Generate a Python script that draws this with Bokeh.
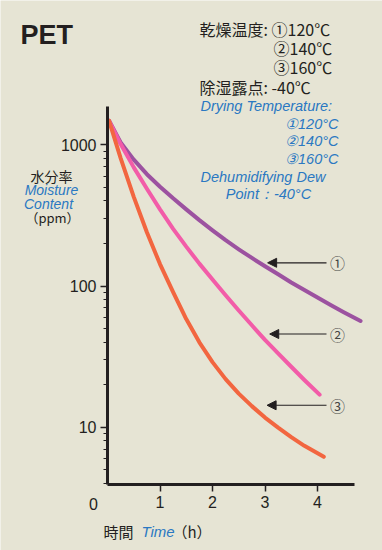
from bokeh.plotting import figure
from bokeh.models import (FixedTicker, NumeralTickFormatter, Label, Arrow, NormalHead, Range1d)
from bokeh.embed import file_html
from bokeh.resources import INLINE

# ---- data ----
time_1 = [0.03, 0.25, 0.5, 0.75, 1.0, 1.25, 1.5, 1.75, 2.0, 2.25, 2.5, 2.75, 3.0,
          3.25, 3.5, 3.75, 4.0, 4.25, 4.5, 4.82]
moist_1 = [1479, 1038, 785, 619, 505, 418, 349, 293, 248, 211, 182, 158, 138,
           121, 106, 93.8, 82.8, 73.5, 65.3, 56.5]
time_2 = [0.03, 0.25, 0.5, 0.75, 1.0, 1.25, 1.5, 1.75, 2.0, 2.25, 2.5, 2.75, 3.0,
          3.25, 3.5, 3.75, 4.04]
moist_2 = [1479, 1012, 692, 488, 349, 254, 190, 144, 111, 85.9, 67.1, 52.7, 41.5,
           33.3, 26.8, 21.6, 17.0]
time_3 = [0.03, 0.25, 0.5, 0.75, 1.0, 1.25, 1.5, 1.75, 2.0, 2.25, 2.5, 2.75, 3.0,
          3.25, 3.5, 3.75, 4.12]
moist_3 = [1479, 805, 428, 240, 143, 90.4, 58.3, 39.9, 28.9, 21.9, 17.3, 14.1, 11.7,
           9.93, 8.51, 7.38, 6.17]
series_colors = ["#9C52A0", "#F25CA8", "#F26640"]
x_ticks = [1, 2, 3, 4]
y_ticks = [10, 100, 1000]
arrow_names = ["①", "②", "③"]
arrow_tip_t = [3.05, 3.09, 3.04]
arrow_y = [146, 45.7, 14.3]

BG = "#E6E4D4"
DARK = "#231F20"
BLUE = "#2A78C2"
JP = "Noto Sans CJK JP"
LAT = "Liberation Sans"

W, H = 382, 550
FL, FT, FB = 107, 106, 484   # axis corner / top of the y axis
PXH = 52.5          # pixels per hour
PXD = 141.2         # pixels per decade
Y1000 = 144.3       # pixel row of 1000

def X(px):
    return (px - FL) / PXH

def Y(py):
    return 10 ** (3 - (py - Y1000) / PXD)

p = figure(width=W, height=H, output_backend="svg", toolbar_location=None,
           y_axis_type="log",
           x_range=Range1d(X(0), X(W)), y_range=Range1d(Y(H), Y(0)),
           min_border_left=0, min_border_top=0,
           min_border_right=0, min_border_bottom=0)
p.background_fill_color = BG
p.border_fill_color = BG
p.outline_line_color = None
p.grid.visible = False

for t, m, c in zip([time_1, time_2, time_3], [moist_1, moist_2, moist_3], series_colors):
    p.line(t, m, line_color=c, line_width=4, line_cap="round", line_join="round")

# axes (kept at the chart corner)
xa = p.xaxis[0]
xa.fixed_location = Y(FB)
xa.ticker = FixedTicker(ticks=x_ticks)
xa.bounds = (0, 4.7)
xa.axis_line_width = 3
xa.axis_line_color = DARK
xa.major_tick_line_color = DARK
xa.major_tick_line_width = 1.5
xa.major_tick_out = 7
xa.major_tick_in = 0
xa.minor_tick_line_color = None
xa.major_label_text_font = LAT
xa.major_label_text_font_size = "16px"
xa.major_label_text_color = DARK
xa.major_label_standoff = 4

ya = p.yaxis[0]
ya.fixed_location = 0
minor = [m * 10 ** e for e in (0, 1, 2) for m in range(2, 10) if m * 10 ** e >= 4]
ya.ticker = FixedTicker(ticks=y_ticks, minor_ticks=minor)
ya.bounds = (Y(FB), Y(FT))
ya.formatter = NumeralTickFormatter(format="0")
ya.axis_line_width = 3
ya.axis_line_color = DARK
ya.major_tick_line_color = DARK
ya.major_tick_line_width = 1.5
ya.major_tick_out = 7
ya.major_tick_in = 0
ya.minor_tick_line_color = DARK
ya.minor_tick_line_width = 1.2
ya.minor_tick_out = 4
ya.minor_tick_in = 0
ya.major_label_text_font = LAT
ya.major_label_text_font_size = "16px"
ya.major_label_text_color = DARK
ya.major_label_standoff = 4

def lab(text, px, py, size, font=JP, color=DARK, align="left", style="normal"):
    p.add_layout(Label(x=X(px), y=Y(py), text=text, text_font=font,
                       text_font_size=size, text_color=color, text_align=align,
                       text_baseline="middle", text_font_style=style))

# title and notes
lab("PET", 20, 34, "27px", font=LAT, style="bold")
lab("乾燥温度: ①120℃", 199, 28, "16px")
lab("②140℃", 273, 47, "16px")
lab("③160℃", 273, 66, "16px")
lab("除湿露点: -40℃", 199, 86, "16px")
lab("Drying Temperature:", 200, 105, "14.5px", font=LAT, color=BLUE, style="italic")
lab("①120°C", 338, 123, "14.5px", font=LAT, color=BLUE, align="right", style="italic")
lab("②140°C", 338, 140, "14.5px", font=LAT, color=BLUE, align="right", style="italic")
lab("③160°C", 338, 158, "14.5px", font=LAT, color=BLUE, align="right", style="italic")
lab("Dehumidifying Dew", 200, 176, "14.5px", font=LAT, color=BLUE, style="italic")
lab("Point：-40°C", 268, 193, "14.5px", font=LAT, color=BLUE, align="center", style="italic")

# y axis title
lab("水分率", 51, 175, "14px", align="center")
lab("Moisture", 51, 189, "14px", font=LAT, color=BLUE, align="center", style="italic")
lab("Content", 48, 203, "14px", font=LAT, color=BLUE, align="center", style="italic")
lab("（ppm）", 52, 217, "13px", align="center")

# x axis title and origin label
lab("0", 93, 503, "16px", font=LAT, align="center")
lab("時間", 103, 531, "15px")
lab("Time", 141, 531, "15px", font=LAT, color=BLUE, style="italic")
lab("（h）", 172, 531, "15px")

# arrows with circled numbers
for name, tip, yv in zip(arrow_names, arrow_tip_t, arrow_y):
    p.add_layout(Arrow(x_start=X(326), y_start=yv, x_end=tip, y_end=yv,
                       line_color=DARK, line_width=1.2,
                       end=NormalHead(size=9, fill_color=DARK, line_color=DARK)))
    p.add_layout(Label(x=X(337), y=yv, text=name, text_font=JP, text_font_size="15px",
                       text_color="#444444", text_align="center", text_baseline="middle"))

open("out.html", "w").write(file_html(p, INLINE))
